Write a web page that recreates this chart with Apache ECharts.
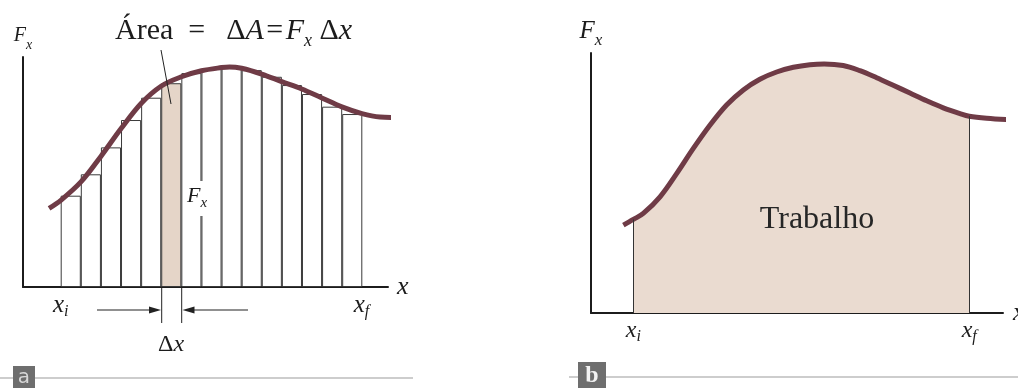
<!DOCTYPE html>
<html>
<head>
<meta charset="utf-8">
<script src="https://cdn.jsdelivr.net/npm/echarts@6/dist/echarts.min.js"></script>
<style>
  html, body { margin: 0; padding: 0; background: #fff; }
  #chart { width: 1018px; height: 388px; }
</style>
</head>
<body>
<div id="chart"></div>
<script>
// ---- painel a: faixas de largura Δx sob a curva ----
const stripLabels = ['1', '2', '3', '4', '5', '6', '7', '8', '9', '10', '11', '12', '13', '14', '15']
const stripHeights = [3.97, 4.90, 6.07, 7.26, 8.23, 8.86, 9.30, 9.50, 9.52, 9.43, 9.14, 8.78, 8.39, 7.84, 7.52]
const shadedStrip = 5 // faixa destacada: Área = ΔA = Fx Δx

// ---- painel a: curva Fx(x) ----
const curveAX = [1.3, 1.9, 2.9, 3.9, 4.9, 5.9, 6.9, 7.9, 8.9, 9.9, 10.3, 10.9, 11.9, 12.9, 13.9, 14.9, 15.9, 16.9, 17.8, 18.6]
const curveAY = [3.42, 3.78, 4.58, 5.70, 6.90, 7.99, 8.74, 9.14, 9.40, 9.54, 9.57, 9.51, 9.26, 8.93, 8.61, 8.22, 7.83, 7.54, 7.39, 7.37]
const xiA = 1.88, xfA = 16.88

// ---- painel b: curva Fx(x) e área (trabalho) ----
const curveBX = [1.43, 1.87, 2.31, 3.05, 3.79, 4.52, 5.26, 5.99, 6.73, 7.46, 8.20, 8.94, 9.67, 10.30, 11.14, 11.88, 12.62, 13.35, 14.09, 14.83, 15.56, 16.30, 16.71, 17.48, 18.51]
const curveBY = [3.38, 3.60, 3.83, 4.47, 5.37, 6.33, 7.23, 8.00, 8.58, 8.99, 9.27, 9.45, 9.55, 9.58, 9.52, 9.32, 9.05, 8.76, 8.46, 8.16, 7.89, 7.67, 7.57, 7.49, 7.43]
const xiBIndex = 1, xfBIndex = 22

const SERIF = 'Liberation Serif'
const INK = '#1c1c1c'
const CURVE = '#6f3b46'

const curveA = curveAX.map((x, i) => [x, curveAY[i]])
const curveB = curveBX.map((x, i) => [x, curveBY[i]])
const workArea = curveB.slice(xiBIndex, xfBIndex + 1)
const xiB = curveBX[xiBIndex], xfB = curveBX[xfBIndex]

// rich styles: letra itálica + subscrito
const subRich = (big, small, lh) => ({
  F: { fontFamily: SERIF, fontStyle: 'italic', fontSize: big, lineHeight: lh, color: INK },
  s: { fontFamily: SERIF, fontStyle: 'italic', fontSize: small, lineHeight: lh, verticalAlign: 'bottom', color: INK }
})

const axisLine = { show: true, onZero: false, lineStyle: { color: INK, width: 2 } }

const chart = echarts.init(document.getElementById('chart'), null, { renderer: 'canvas' })

chart.setOption({
  animation: false,
  backgroundColor: '#fff',
  grid: [
    { left: 23, top: 57, width: 365, height: 230, outerBoundsMode: 'none' },
    { left: 60.7, top: 57, width: 301.6, height: 230, outerBoundsMode: 'none' },
    { left: 591, top: 53, width: 412, height: 260, outerBoundsMode: 'none' }
  ],
  xAxis: [
    {
      gridIndex: 0, type: 'value', min: 0, max: 18.2,
      axisLine, axisTick: { show: false }, splitLine: { show: false },
      axisLabel: {
        show: true, margin: 4, customValues: [xiA, xfA],
        formatter: v => v === xiA ? '{F|x}{s|i}' : '{F|x}{s|f}',
        rich: subRich(25, 16, 29)
      },
      name: 'x', nameLocation: 'end', nameGap: 9,
      nameTextStyle: { fontFamily: SERIF, fontStyle: 'italic', fontSize: 26, color: INK }
    },
    { gridIndex: 1, type: 'category', data: stripLabels, show: false },
    {
      gridIndex: 2, type: 'value', min: 0, max: 18.2,
      axisLine, axisTick: { show: false }, splitLine: { show: false },
      axisLabel: {
        show: true, margin: 3, customValues: [xiB, xfB],
        formatter: v => v === xiB ? '{F|x}{s|i}' : '{F|x}{s|f}',
        rich: subRich(24, 16, 29)
      },
      name: 'x', nameLocation: 'end', nameGap: 10,
      nameTextStyle: { fontFamily: SERIF, fontStyle: 'italic', fontSize: 26, color: INK }
    }
  ],
  yAxis: [
    {
      gridIndex: 0, type: 'value', min: 0, max: 10,
      axisLine, axisTick: { show: false }, axisLabel: { show: false }, splitLine: { show: false },
      name: '{F|F}{s|x}', nameLocation: 'end', nameGap: 5,
      nameTextStyle: { rich: subRich(20, 14, 32) }
    },
    { gridIndex: 1, type: 'value', min: 0, max: 10, show: false },
    {
      gridIndex: 2, type: 'value', min: 0, max: 10,
      axisLine, axisTick: { show: false }, axisLabel: { show: false }, splitLine: { show: false },
      name: '{F|F}{s|x}', nameLocation: 'end', nameGap: 4,
      nameTextStyle: { rich: subRich(25, 17, 36) }
    }
  ],
  series: [
    {
      type: 'bar', xAxisIndex: 1, yAxisIndex: 1, barWidth: '100%', silent: true, z: 1,
      itemStyle: { color: 'rgba(0,0,0,0)', borderColor: '#3a3a3a', borderWidth: 1 },
      data: stripHeights.map((v, i) => i === shadedStrip
        ? { value: v, itemStyle: { color: '#e5d5c8' } }
        : v)
    },
    {
      type: 'line', xAxisIndex: 0, yAxisIndex: 0, data: curveA, smooth: 0.35,
      showSymbol: false, symbol: 'none', clip: false, silent: true, z: 3,
      lineStyle: { color: CURVE, width: 5 }
    },
    {
      type: 'line', xAxisIndex: 2, yAxisIndex: 2, data: workArea, smooth: 0.35,
      showSymbol: false, symbol: 'none', silent: true, z: 1,
      lineStyle: { width: 0, opacity: 0 },
      areaStyle: { color: '#eadbd0', opacity: 1 },
      markLine: {
        silent: true, symbol: ['none', 'none'], label: { show: false },
        lineStyle: { color: '#333', width: 1, type: 'solid' },
        data: [
          [{ coord: [xiB, 0] }, { coord: [xiB, curveBY[xiBIndex]] }],
          [{ coord: [xfB, 0] }, { coord: [xfB, curveBY[xfBIndex]] }]
        ]
      }
    },
    {
      type: 'line', xAxisIndex: 2, yAxisIndex: 2, data: curveB, smooth: 0.35,
      showSymbol: false, symbol: 'none', clip: false, silent: true, z: 3,
      lineStyle: { color: CURVE, width: 5 }
    }
  ],
  graphic: [
    // legenda da faixa destacada
    {
      type: 'text', x: 115, y: 12, z: 100,
      style: {
        text: '{n|Área  =  \u2009Δ}{i|A}{n|\u200A=\u200A}{i|F}{s|x}{n| Δ}{i|x}',
        rich: {
          n: { fontFamily: SERIF, fontSize: 30, lineHeight: 38, fill: INK },
          i: { fontFamily: SERIF, fontStyle: 'italic', fontSize: 30, lineHeight: 38, fill: INK },
          s: { fontFamily: SERIF, fontStyle: 'italic', fontSize: 18, lineHeight: 38, verticalAlign: 'bottom', fill: INK }
        }
      }
    },
    { type: 'line', z: 100, shape: { x1: 161, y1: 50, x2: 171, y2: 104 }, style: { stroke: '#222', lineWidth: 1 } },
    // Fx no meio do painel a
    {
      type: 'text', x: 186, y: 181, z: 100,
      style: {
        text: '{F|F}{s|x}', backgroundColor: '#fff', padding: [0, 1, 5, 1],
        rich: {
          F: { fontFamily: SERIF, fontStyle: 'italic', fontSize: 22, lineHeight: 30, fill: INK },
          s: { fontFamily: SERIF, fontStyle: 'italic', fontSize: 15, lineHeight: 30, verticalAlign: 'bottom', fill: INK }
        }
      }
    },
    // marcas de Δx e setas
    { type: 'line', z: 100, shape: { x1: 161.7, y1: 287, x2: 161.7, y2: 323 }, style: { stroke: '#222', lineWidth: 1 } },
    { type: 'line', z: 100, shape: { x1: 181.7, y1: 287, x2: 181.7, y2: 323 }, style: { stroke: '#222', lineWidth: 1 } },
    { type: 'line', z: 100, shape: { x1: 97, y1: 310, x2: 152, y2: 310 }, style: { stroke: '#222', lineWidth: 1.2 } },
    { type: 'polygon', z: 100, shape: { points: [[161, 310], [149, 306.5], [149, 313.5]] }, style: { fill: '#222' } },
    { type: 'line', z: 100, shape: { x1: 248, y1: 310, x2: 191, y2: 310 }, style: { stroke: '#222', lineWidth: 1.2 } },
    { type: 'polygon', z: 100, shape: { points: [[182.5, 310], [194.5, 306.5], [194.5, 313.5]] }, style: { fill: '#222' } },
    {
      type: 'text', x: 171, y: 345, z: 100,
      style: {
        text: '{n|Δ}{i|x}', align: 'center', verticalAlign: 'middle',
        rich: {
          n: { fontFamily: SERIF, fontSize: 24, fill: INK },
          i: { fontFamily: SERIF, fontStyle: 'italic', fontSize: 24, fill: INK }
        }
      }
    },
    // rótulo do painel b
    {
      type: 'text', x: 817, y: 219.5, z: 100,
      style: { text: 'Trabalho', align: 'center', verticalAlign: 'middle', font: '32px "Liberation Serif"', fill: '#262626' }
    },
    // etiquetas a / b
    { type: 'line', z: 50, shape: { x1: 0, y1: 378, x2: 413, y2: 378 }, style: { stroke: '#cdcdcd', lineWidth: 2 } },
    { type: 'rect', z: 51, shape: { x: 13, y: 366, width: 22, height: 24 }, style: { fill: '#6e6e6e' } },
    { type: 'text', z: 52, x: 24, y: 378, style: { text: 'a', align: 'center', verticalAlign: 'middle', font: '20px "DejaVu Sans"', fill: '#d8d8d8' } },
    { type: 'line', z: 50, shape: { x1: 569, y1: 377, x2: 1018, y2: 377 }, style: { stroke: '#cdcdcd', lineWidth: 2 } },
    { type: 'rect', z: 51, shape: { x: 578, y: 362, width: 28, height: 28 }, style: { fill: '#6e6e6e' } },
    { type: 'text', z: 52, x: 592, y: 376, style: { text: 'b', align: 'center', verticalAlign: 'middle', font: 'bold 24px "Liberation Serif"', fill: '#f2f2f2' } }
  ]
})
</script>
</body>
</html>
